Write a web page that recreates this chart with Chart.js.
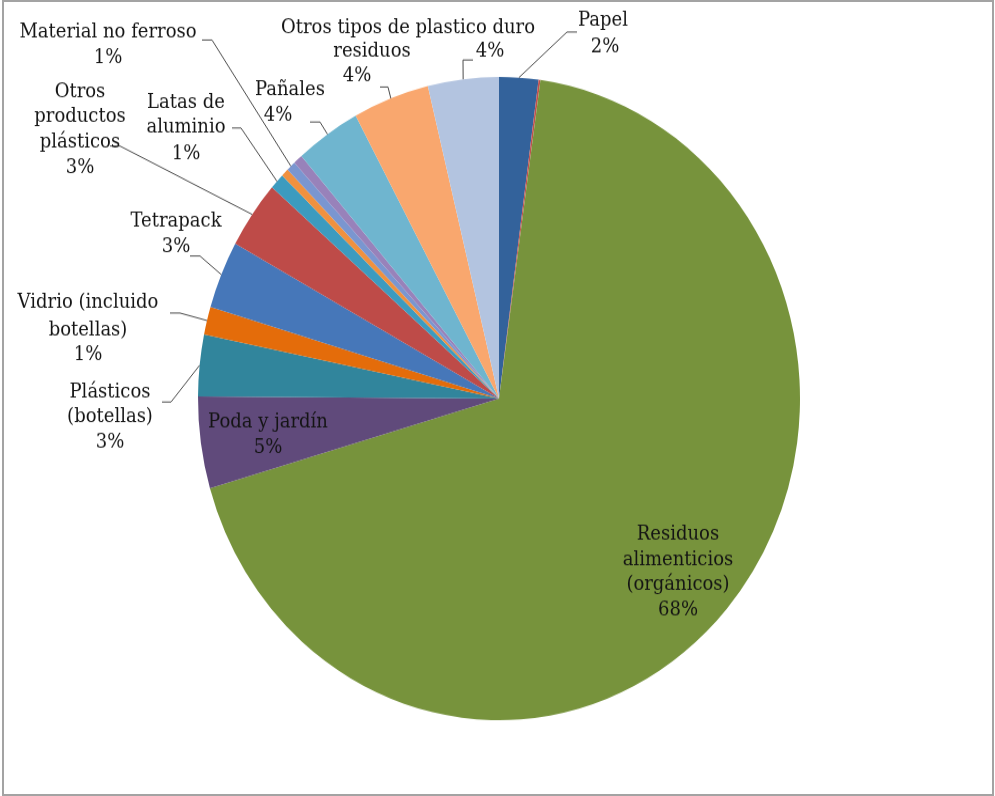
<!DOCTYPE html>
<html>
<head>
<meta charset="utf-8">
<script src="https://cdn.jsdelivr.net/npm/chart.js@4/dist/chart.umd.min.js"></script>
<style>
  html, body { margin: 0; padding: 0; background: #fff; }
  #wrap { position: relative; width: 995px; height: 796px; overflow: hidden; }
  #residuosChart { display: block; }
  #frame {
    position: absolute; left: 2px; top: 0; width: 992px; height: 796px;
    box-sizing: border-box; border: 2px solid #a3a3a3; pointer-events: none;
  }
</style>
</head>
<body>
<div id="wrap">
  <canvas id="residuosChart" width="995" height="745" style="width: 995px; height: 796px;"></canvas>
  <div id="frame"></div>
</div>
<script>
const categories = [
  'Papel', '', 'Residuos alimenticios (orgánicos)', 'Poda y jardín',
  'Plásticos (botellas)', 'Vidrio (incluido botellas)', 'Tetrapack',
  'Otros productos plásticos', 'Latas de aluminio', '', 'Material no ferroso', '',
  'Pañales', 'residuos', 'Otros tipos de plastico duro'
];

const shares = [2.1, 0.1, 68.3, 4.6, 3.1, 1.4, 3.4, 3.4, 0.8, 0.4, 0.5, 0.5, 3.5, 4.1, 3.8];

const labelTexts = [
  ['Papel', '2%'],
  [],
  ['Residuos', 'alimenticios', '(orgánicos)', '68%'],
  ['Poda y jardín', '5%'],
  ['Plásticos', '(botellas)', '3%'],
  ['Vidrio (incluido', 'botellas)', '1%'],
  ['Tetrapack', '3%'],
  ['Otros', 'productos', 'plásticos', '3%'],
  ['Latas de', 'aluminio', '1%'],
  [],
  ['Material no ferroso', '1%'],
  [],
  ['Pañales', '4%'],
  ['residuos', '4%'],
  ['Otros tipos de plastico duro', '4%']
];

const sliceColors = [
  '#33629b', '#c0504d', '#77933c', '#604a7b', '#31859c', '#e46c0a', '#4677b9',
  '#be4b48', '#3c9bbf', '#f0913f', '#7a96d0', '#9882ba', '#6fb5cf', '#f9a76e', '#b3c4e0'
];

// where each label line sits and where its leader line bends (picture pixels)
const labelLayout = [
  { lines: [[603, 21], [605, 47]], leader: [[577, 32], [567, 32]] },
  null,
  { lines: [[678, 535], [678, 560], [678, 585], [678, 610]], leader: null },
  { lines: [[268, 422], [268, 448]], leader: null },
  { lines: [[110, 392], [110, 417], [110, 443]], leader: [[162, 402], [171, 402]] },
  { lines: [[88, 303], [88, 330], [88, 355]], leader: [[170, 313], [180, 313]] },
  { lines: [[176, 221], [176, 247]], leader: [[190, 256], [200, 256]] },
  { lines: [[80, 92], [80, 117], [80, 142], [80, 168]], leader: [[110, 146], [120, 146]] },
  { lines: [[186, 103], [186, 128], [186, 154]], leader: [[232, 128], [241, 128]] },
  null,
  { lines: [[108, 32], [108, 58]], leader: [[202, 40], [212, 40]] },
  null,
  { lines: [[290, 90], [278, 116]], leader: [[310, 122], [320, 122]] },
  { lines: [[372, 52], [357, 76]], leader: [[380, 87], [388, 87]] },
  { lines: [[408, 28], [490, 52]], leader: [[473, 60], [463, 60]] }
];

const canvas = document.getElementById('residuosChart');
const stretchY = 796 / canvas.height;

const pieLabels = {
  id: 'pieLabels',
  afterDraw(chart) {
    const ctx = chart.ctx;
    const meta = chart.getDatasetMeta(0);
    ctx.save();
    ctx.font = '18px "DejaVu Serif", serif';
    ctx.textAlign = 'center';
    ctx.textBaseline = 'middle';
    ctx.lineWidth = 1;
    ctx.strokeStyle = '#4a4a4a';
    ctx.fillStyle = '#141414';

    labelLayout.forEach((layout, i) => {
      if (!layout) {
        return;
      }
      if (layout.leader) {
        const arc = meta.data[i].getProps(['x', 'y', 'startAngle', 'endAngle', 'outerRadius'], true);
        const mid = (arc.startAngle + arc.endAngle) / 2;
        const ex = arc.x + Math.cos(mid) * arc.outerRadius;
        const ey = arc.y + Math.sin(mid) * arc.outerRadius;
        ctx.beginPath();
        layout.leader.forEach(([px, py], k) => {
          if (k === 0) {
            ctx.moveTo(px, py / stretchY);
          } else {
            ctx.lineTo(px, py / stretchY);
          }
        });
        ctx.lineTo(ex, ey);
        ctx.stroke();
      }
      labelTexts[i].forEach((text, k) => {
        const [tx, ty] = layout.lines[k];
        ctx.fillText(text, tx, ty / stretchY);
      });
    });
    ctx.restore();
  }
};

new Chart(canvas, {
  type: 'pie',
  data: {
    labels: categories,
    datasets: [{
      data: shares,
      backgroundColor: sliceColors,
      borderWidth: 0
    }]
  },
  options: {
    responsive: false,
    animation: false,
    layout: {
      padding: { left: 198, right: 195, top: 72, bottom: 71 }
    },
    plugins: {
      legend: { display: false },
      tooltip: { enabled: false }
    }
  },
  plugins: [pieLabels]
});
</script>
</body>
</html>
